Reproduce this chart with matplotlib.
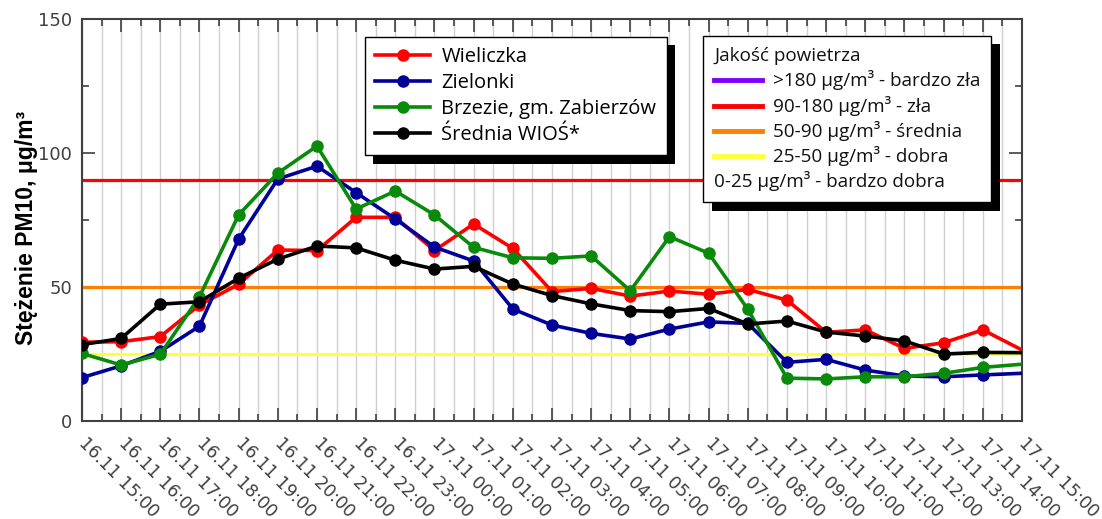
import matplotlib
matplotlib.use('Agg')
import matplotlib.pyplot as plt
import matplotlib.patheffects as pe
from matplotlib.lines import Line2D
from matplotlib.offsetbox import (AnchoredOffsetbox, DrawingArea, HPacker,
                                  TextArea, VPacker)
from matplotlib.ticker import MultipleLocator, FixedLocator
import numpy as np

# hourly timestamps
hours = ['16.11 15:00', '16.11 16:00', '16.11 17:00', '16.11 18:00',
         '16.11 19:00', '16.11 20:00', '16.11 21:00', '16.11 22:00',
         '16.11 23:00', '17.11 00:00', '17.11 01:00', '17.11 02:00',
         '17.11 03:00', '17.11 04:00', '17.11 05:00', '17.11 06:00',
         '17.11 07:00', '17.11 08:00', '17.11 09:00', '17.11 10:00',
         '17.11 11:00', '17.11 12:00', '17.11 13:00', '17.11 14:00',
         '17.11 15:00']

# PM10 concentrations, ug/m3
wieliczka = [29.4, 29.6, 31.5, 43.3, 51.0, 63.8, 63.6, 76.0, 76.0, 63.6,
             73.5, 64.4, 48.3, 49.5, 46.6, 48.5, 47.3, 49.1, 45.1, 33.1,
             34.0, 27.1, 29.2, 34.0, 26.5]
zielonki = [16.2, 20.6, 26.0, 35.4, 67.9, 90.3, 95.1, 85.2, 75.4, 64.9,
            59.7, 41.8, 35.8, 32.7, 30.6, 34.3, 37.0, 36.4, 21.9, 23.0,
            19.0, 16.8, 16.5, 17.2, 17.8]
brzezie = [25.2, 20.9, 24.9, 46.4, 76.9, 92.5, 102.6, 79.1, 85.8, 76.9,
           64.8, 60.9, 60.7, 61.6, 48.6, 68.8, 62.6, 41.7, 16.0, 15.7,
           16.5, 16.5, 17.8, 20.0, 21.2]
srednia = [28.5, 30.8, 43.6, 44.5, 53.3, 60.4, 65.3, 64.6, 60.0, 56.7,
           57.7, 51.1, 46.8, 43.7, 41.2, 40.8, 42.0, 36.2, 37.3, 33.2,
           31.7, 29.9, 25.0, 25.6, 25.5]

stations = [wieliczka, zielonki, brzezie, srednia]
station_names = ['Wieliczka', 'Zielonki', 'Brzezie, gm. Zabierzów',
                 'Średnia WIOŚ*']
station_colors = ['#ff0000', '#000099', '#0a8a0a', '#000000']

# air quality thresholds
quality_levels = [180, 90, 50, 25]
quality_labels = ['>180 μg/m³ - bardzo zła', '90-180 μg/m³ - zła',
                  '50-90 μg/m³ - średnia', '25-50 μg/m³ - dobra']
quality_colors = ['#8000ff', '#ff0000', '#ff8000', '#ffff40']
quality_title = 'Jakość powietrza'
quality_last = '0-25 μg/m³ - bardzo dobra'

LEGEND_FONT = 'Open Sans'
GREY = '#404040'

fig = plt.figure(figsize=(11.02, 5.19), dpi=100)
ax = fig.add_axes([0.0744, 0.1888, 0.853, 0.7746])

x = np.arange(len(hours))

for level, color in zip(quality_levels, quality_colors):
    ax.axhline(level, color=color, lw=2.3, zorder=2)

for values, name, color in zip(stations, station_names, station_colors):
    ax.plot(x, values, color=color, lw=2.6, marker='o', ms=8,
            markevery=slice(0, len(hours) - 1), label=name, zorder=3)

ax.set_xlim(0, len(hours) - 1)
ax.set_ylim(0, 150)
ax.xaxis.set_major_locator(FixedLocator(x))
ax.xaxis.set_minor_locator(MultipleLocator(0.5))
ax.set_xticklabels(hours, rotation=-45, ha='left', va='center',
                   rotation_mode='anchor', fontsize=12.5, color=GREY)
ax.yaxis.set_major_locator(MultipleLocator(50))
ax.yaxis.set_minor_locator(MultipleLocator(25))
for lab in ax.get_yticklabels():
    lab.set_fontsize(13)
    lab.set_color(GREY)

ax.tick_params(which='both', direction='in', top=True, right=True,
               color=GREY, width=1.2)
ax.tick_params(which='major', length=9.5)
ax.tick_params(which='minor', length=5)
ax.tick_params(axis='x', which='major', pad=14)
ax.tick_params(axis='y', which='major', pad=7)
ax.grid(True, axis='x', which='both', color='#d0d0d0', lw=1, zorder=1)
for sp in ax.spines.values():
    sp.set_color(GREY)
    sp.set_linewidth(1.5)

ax.set_ylabel('Stężenie PM10, μg/m³', fontsize=16.5, fontweight='bold',
              family='Liberation Sans')
ax.yaxis.set_label_coords(-0.047, 0.481)

shadow = [pe.SimplePatchShadow(offset=(6, -6), shadow_rgbFace='black',
                               alpha=1.0), pe.Normal()]

leg = ax.legend(loc='upper left', bbox_to_anchor=(0.301, 0.955),
                borderaxespad=0, fancybox=False, framealpha=1,
                edgecolor='black', handlelength=2.75, handletextpad=0.55,
                labelspacing=0.3, borderpad=0.5,
                prop={'family': LEGEND_FONT, 'size': 14.5})
leg.get_frame().set_linewidth(1.0)
leg.get_frame().set_path_effects(shadow)
leg.set_zorder(5)

# second box: air quality scale
txt = {'family': LEGEND_FONT, 'size': 13.6, 'color': '#111111'}
rows = [TextArea(quality_title, textprops=txt)]
for label, color in zip(quality_labels, quality_colors):
    da = DrawingArea(34, 10, 0, 0)
    da.add_artist(Line2D([0, 34], [5, 5], color=color, lw=3.5))
    rows.append(HPacker(children=[da, TextArea(label, textprops=txt)],
                        align='center', pad=0, sep=8))
rows.append(TextArea(quality_last, textprops=txt))
box = AnchoredOffsetbox(loc='upper left',
                        child=VPacker(children=rows, align='left', pad=0,
                                      sep=3.8),
                        bbox_to_anchor=(0.661, 0.958),
                        bbox_transform=ax.transAxes, borderpad=0, pad=0.8,
                        frameon=True)
box.patch.set_edgecolor('black')
box.patch.set_linewidth(1.0)
box.patch.set_path_effects(shadow)
box.set_zorder(5)
ax.add_artist(box)

fig.savefig('out.png', dpi=100)
